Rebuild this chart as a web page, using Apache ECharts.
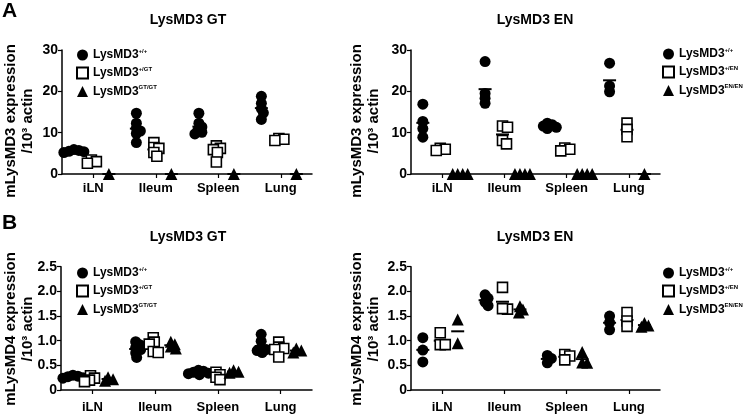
<!DOCTYPE html>
<html>
<head>
<meta charset="utf-8">
<script src="https://cdn.jsdelivr.net/npm/echarts@6/dist/echarts.min.js"></script>
<style>
html,body{margin:0;padding:0;background:#fff;}
#chart{width:745px;height:416px;}
</style>
</head>
<body>
<div id="chart"></div>
<script>
// ---------- data ----------
const categories = ['iLN', 'Ileum', 'Spleen', 'Lung'];
const gtSup = ['+/+', '+/GT', 'GT/GT'];
const enSup = ['+/+', '+/EN', 'EN/EN'];
const yTicksA = [0, 10, 20, 30];
const yTicksB = [0, 0.5, 1.0, 1.5, 2.0, 2.5];

// Panel A, LysMD3 GT: mLysMD3 expression (per category)
const aGtWT  = [[5.4, 5.2, 5.7, 5.9, 5.5], [14.7, 12.3, 11.1, 10.4, 9.8, 7.6], [14.7, 12.3, 11.4, 10.6, 10.1, 9.7], [18.8, 17.1, 15.8, 14.8, 13.2]];
const aGtHet = [[3.4, 3.0, 2.6], [7.6, 6.4, 6.2, 5.2, 4.3], [6.8, 6.2, 5.9, 5.2, 2.9], [8.6, 8.4, 8.1]];
const aGtKo  = [[0], [0], [0], [0]];
// Panel A, LysMD3 EN
const aEnWT  = [[16.9, 12.7, 11.0, 8.9], [27.2, 19.5, 18.3, 17.1], [12.3, 11.9, 11.6, 11.3, 11.0], [26.8, 21.3, 19.9]];
const aEnHet = [[6.2, 6.0, 5.7], [11.6, 11.3, 8.1, 7.3], [6.3, 6.0, 5.6], [12.3, 10.8, 9.0]];
const aEnKo  = [[0, 0, 0, 0], [0, 0, 0, 0], [0, 0, 0, 0], [0]];
// Panel B, LysMD3 GT: mLysMD4 expression
const bGtWT  = [[0.30, 0.28, 0.27, 0.25, 0.24, 0.23], [0.98, 0.92, 0.86, 0.82, 0.75, 0.66], [0.40, 0.38, 0.36, 0.34, 0.33, 0.31], [1.13, 0.99, 0.85, 0.82, 0.80, 0.76]];
const bGtHet = [[0.29, 0.24, 0.20, 0.17], [1.06, 0.97, 0.93, 0.78, 0.76], [0.36, 0.31, 0.26, 0.21], [0.97, 0.87, 0.84, 0.82, 0.67]];
const bGtKo  = [[0.26, 0.22, 0.19], [0.98, 0.93, 0.88, 0.84], [0.40, 0.37, 0.35], [0.84, 0.80, 0.76]];
// Panel B, LysMD3 EN
const bEnWT  = [[1.06, 0.81, 0.57], [1.93, 1.86, 1.78, 1.71], [0.70, 0.64, 0.55], [1.50, 1.37, 1.22]];
const bEnHet = [[1.16, 0.92, 0.92], [2.08, 1.64, 1.65], [0.72, 0.69, 0.61], [1.57, 1.40, 1.29]];
const bEnKo  = [[1.43, 0.95], [1.70, 1.63, 1.57], [0.77, 0.56, 0.55], [1.36, 1.31, 1.28]];

// ---------- layout ----------
const FONT = '"Liberation Sans", Arial, Helvetica, sans-serif';
const INK = '#000';
const grids = [
  {left: 62, top: 50, width: 250, height: 124},
  {left: 411, top: 50, width: 249, height: 124},
  {left: 61, top: 266.7, width: 251, height: 123.3},
  {left: 411, top: 266.7, width: 249, height: 123.3}
];
const yMax = [30, 30, 2.5, 2.5];
const groupOffset = [-0.31, -0.03, 0.25];
const markers = [
  {symbol: 'circle', size: 11, style: {color: INK, opacity: 1}},
  {symbol: 'rect', size: 10, style: {color: '#fff', borderColor: INK, borderWidth: 1.6, opacity: 1}},
  {symbol: 'triangle', size: 12, style: {color: INK, opacity: 1}}
];

// simple beeswarm (pixel-space) to spread overlapping points horizontally
function swarm(values, center, pxX, pxY, d) {
  const order = values.map((v, i) => i).sort((a, b) => values[b] - values[a]);
  const placed = [];
  const out = new Array(values.length);
  order.forEach(i => {
    const py = values[i] * pxY;
    let chosen = 0;
    for (let k = 0; k < 400; k++) {
      const cand = k === 0 ? 0 : (k % 2 ? (k + 1) / 2 : -k / 2);
      let ok = true;
      for (const p of placed) {
        const dx = cand - p[0], dy = py - p[1];
        if (dx * dx + dy * dy < d * d) { ok = false; break; }
      }
      if (ok) { chosen = cand; break; }
    }
    placed.push([chosen, py]);
    out[i] = [center + chosen / pxX, values[i]];
  });
  return out;
}
const mean = a => a.reduce((s, v) => s + v, 0) / a.length;

const panels = [
  {groups: [aGtWT, aGtHet, aGtKo], sup: gtSup},
  {groups: [aEnWT, aEnHet, aEnKo], sup: enSup},
  {groups: [bGtWT, bGtHet, bGtKo], sup: gtSup},
  {groups: [bEnWT, bEnHet, bEnKo], sup: enSup}
];

const series = [];
panels.forEach((panel, pi) => {
  const g = grids[pi];
  const pxX = g.width / 4;
  const pxY = g.height / yMax[pi];
  const meanData = [];
  panel.groups.forEach((grp, gi) => {
    const data = [];
    grp.forEach((vals, ci) => {
      const c = ci + groupOffset[gi];
      swarm(vals, c, pxX, pxY, 4.5).forEach(p => data.push(p));
      meanData.push([c, mean(vals)]);
    });
    const m = markers[gi];
    series.push({
      type: 'scatter', name: 'LysMD3' + panel.sup[gi],
      xAxisIndex: pi, yAxisIndex: pi,
      symbol: m.symbol, symbolSize: m.size, itemStyle: m.style,
      data: data, z: 3, silent: true, emphasis: {disabled: true}
    });
  });
  series.push({
    type: 'scatter', name: 'mean' + pi, xAxisIndex: pi, yAxisIndex: pi,
    symbol: 'rect', symbolSize: [13, 2], itemStyle: {color: INK, opacity: 1},
    data: meanData, z: 2, silent: true, emphasis: {disabled: true}
  });
});

const xAxes = grids.map((g, i) => ({
  type: 'value', gridIndex: i, min: -0.5, max: 3.5,
  splitLine: {show: false},
  axisLine: {onZero: false, lineStyle: {color: INK, width: 1.5}},
  axisTick: {show: true, customValues: [0, 1, 2, 3], length: 4, lineStyle: {color: INK, width: 1.2}},
  axisLabel: {
    customValues: [0, 1, 2, 3], formatter: v => categories[Math.round(v)],
    color: INK, fontFamily: FONT, fontWeight: 'bold', fontSize: 13, margin: i < 2 ? 8 : 11
  }
}));
const yAxes = grids.map((g, i) => ({
  type: 'value', gridIndex: i, min: 0, max: yMax[i], interval: i < 2 ? 10 : 0.5,
  splitLine: {show: false},
  axisLine: {show: true, onZero: false, lineStyle: {color: INK, width: 1.5}},
  axisTick: {show: true, length: 4, lineStyle: {color: INK, width: 1.2}},
  axisLabel: {
    color: INK, fontFamily: FONT, fontWeight: 'bold', fontSize: 14, margin: 4,
    formatter: v => (i < 2 ? String(v) : (v === 0 ? '0' : v.toFixed(1)))
  }
}));

const legendPos = [
  {left: 71, top: 43}, {left: 657, top: 42}, {left: 71, top: 261}, {left: 657, top: 261}
];
const legends = panels.map((panel, pi) => ({
  orient: 'vertical', left: legendPos[pi].left, top: legendPos[pi].top,
  itemWidth: 11, itemHeight: 11, itemGap: 5, selectedMode: false,
  data: panel.sup.map(s => 'LysMD3' + s),
  formatter: name => '{b|LysMD3}{s|' + name.slice(6) + '}',
  textStyle: {
    color: INK,
    rich: {
      b: {fontFamily: FONT, fontWeight: 'bold', fontSize: 12, color: INK, lineHeight: 14},
      s: {fontFamily: FONT, fontWeight: 'bold', fontSize: 6, color: INK, verticalAlign: 'top'}
    }
  }
}));

function txt(x, y, text, size, rot) {
  return {
    type: 'text', x: x, y: y, rotation: rot || 0, silent: true,
    style: {
      text: text, fill: INK, font: 'bold ' + size + 'px ' + FONT,
      textAlign: 'center', textVerticalAlign: 'middle', lineHeight: 17
    }
  };
}
const graphics = [
  {type: 'text', x: 2, y: 1, silent: true, style: {text: 'A', fill: INK, font: 'bold 21px ' + FONT}},
  {type: 'text', x: 2, y: 213, silent: true, style: {text: 'B', fill: INK, font: 'bold 21px ' + FONT}},
  txt(188, 20, 'LysMD3 GT', 14), txt(535, 20, 'LysMD3 EN', 14),
  txt(188, 237, 'LysMD3 GT', 14), txt(535, 237, 'LysMD3 EN', 14),
  txt(19, 121, 'mLysMD3 expression\n/10³ actin', 15, Math.PI / 2),
  txt(365, 121, 'mLysMD3 expression\n/10³ actin', 15, Math.PI / 2),
  txt(19, 329, 'mLysMD4 expression\n/10³ actin', 15, Math.PI / 2),
  txt(365, 329, 'mLysMD4 expression\n/10³ actin', 15, Math.PI / 2)
];

const chart = echarts.init(document.getElementById('chart'), null, {renderer: 'canvas'});
chart.setOption({
  backgroundColor: '#fff',
  animation: false,
  grid: grids.map(g => Object.assign({containLabel: false}, g)),
  xAxis: xAxes,
  yAxis: yAxes,
  legend: legends,
  graphic: graphics,
  series: series
});
</script>
</body>
</html>
